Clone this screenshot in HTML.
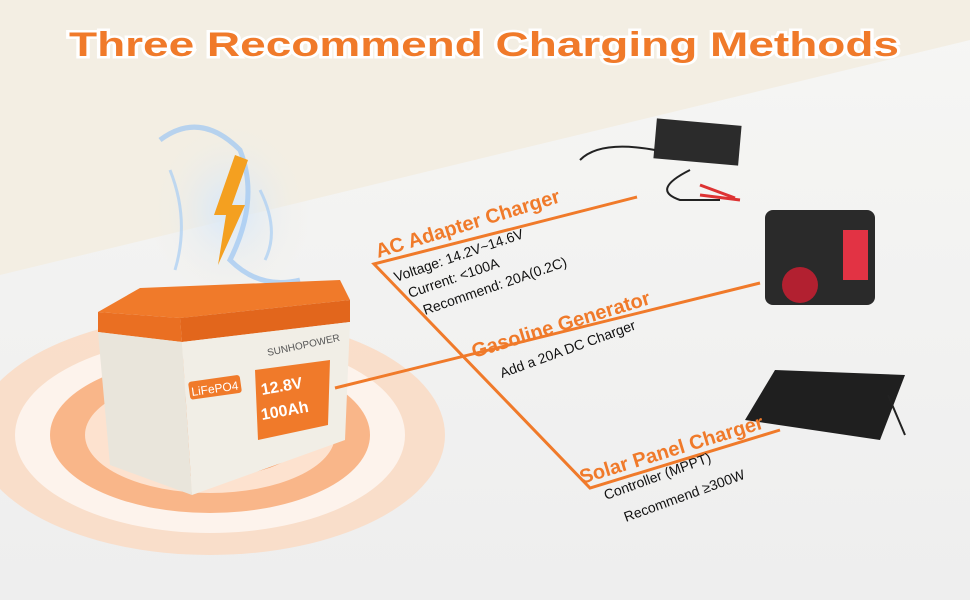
<!DOCTYPE html>
<html><head><meta charset="utf-8"><style>
html,body{margin:0;padding:0;background:#fff}
svg{display:block}
text{font-family:"Liberation Sans",sans-serif}
</style></head><body>
<svg width="970" height="600" viewBox="0 0 970 600" xmlns="http://www.w3.org/2000/svg">
<defs>
<linearGradient id="floor" x1="0" y1="0" x2="0" y2="1">
<stop offset="0" stop-color="#f6f6f4"/><stop offset="1" stop-color="#eeeeee"/>
</linearGradient>
<radialGradient id="glow" cx="0.5" cy="0.5" r="0.5">
<stop offset="0" stop-color="#d6e8fb"/><stop offset="1" stop-color="#f3eee3" stop-opacity="0"/>
</radialGradient>
</defs>
<rect width="970" height="600" fill="url(#floor)"/>
<polygon points="0,0 970,0 970,40 0,275" fill="#f3eee3"/>
<!-- title -->
<text x="484" y="56" text-anchor="middle" font-size="34" font-weight="bold" fill="#f07a2a" stroke="#fff" stroke-width="5" paint-order="stroke" textLength="830" lengthAdjust="spacingAndGlyphs">Three Recommend Charging Methods</text>
<!-- rings -->
<ellipse cx="210" cy="435" rx="235" ry="120" fill="#fbd9c0" opacity="0.8"/>
<ellipse cx="210" cy="435" rx="195" ry="98" fill="#fdf3ec"/>
<ellipse cx="210" cy="435" rx="160" ry="78" fill="#f9b689"/>
<ellipse cx="210" cy="435" rx="125" ry="58" fill="#fde2cf"/>
<ellipse cx="210" cy="435" rx="95" ry="42" fill="#f5955a"/>
<!-- lightning glow -->
<ellipse cx="230" cy="210" rx="80" ry="90" fill="url(#glow)"/>
<path d="M160 140 Q200 110 240 150 Q260 200 230 260 Q260 290 300 280" stroke="#9cc6f2" stroke-width="5" fill="none" opacity="0.7"/>
<path d="M170 170 Q190 220 175 270 M260 190 Q280 230 265 260" stroke="#a8cdf4" stroke-width="3" fill="none" opacity="0.7"/>
<polygon points="235,155 248,160 232,205 245,205 218,265 226,215 214,215" fill="#f4a020"/>
<!-- battery -->
<polygon points="140,288 340,280 350,300 180,318 98,312" fill="#f07a2a"/>
<polygon points="98,312 180,318 182,342 98,332" fill="#ea6f22"/>
<polygon points="180,318 350,300 350,322 182,342" fill="#e2661c"/>
<polygon points="98,332 182,342 192,495 110,465" fill="#e9e5db"/>
<polygon points="182,342 350,322 345,440 192,495" fill="#f1eee6"/>
<polygon points="255,370 330,360 328,425 258,440" fill="#f07a2a"/>
<text x="262" y="395" font-size="16" font-weight="bold" fill="#fff" transform="rotate(-10 262 395)">12.8V</text>
<text x="262" y="420" font-size="16" font-weight="bold" fill="#fff" transform="rotate(-10 262 420)">100Ah</text>
<rect x="188" y="382" width="52" height="18" rx="3" fill="#f07a2a" transform="rotate(-8 188 382)"/>
<text x="192" y="396" font-size="12" fill="#fff" transform="rotate(-8 192 396)">LiFePO4</text>
<text x="268" y="356" font-size="10" fill="#555" transform="rotate(-12 268 356)">SUNHOPOWER</text>
<!-- devices -->
<rect x="655" y="122" width="85" height="40" fill="#2b2b2b" transform="rotate(5 697 142)"/>
<path d="M655 150 Q600 140 580 160 M690 170 Q650 190 680 200 L720 200" stroke="#222" stroke-width="2" fill="none"/>
<path d="M700 185 L735 198 M700 195 L740 200" stroke="#d33" stroke-width="3"/>
<rect x="765" y="210" width="110" height="95" rx="8" fill="#2a2a2a"/>
<rect x="843" y="230" width="25" height="50" fill="#e23344"/>
<circle cx="800" cy="285" r="18" fill="#b22030"/>
<polygon points="745,420 775,370 905,375 880,440" fill="#1f1f1f"/>
<line x1="888" y1="395" x2="905" y2="435" stroke="#222" stroke-width="2"/>
<!-- connector lines -->
<g stroke="#f07a2a" stroke-width="3" fill="none">
<polyline points="637,197 374,264 590,488 780,430"/>
<line x1="335" y1="388" x2="760" y2="283"/>
</g>
<!-- labels -->
<text x="378" y="258" font-size="20" font-weight="bold" fill="#f07a2a" transform="rotate(-17 378 258)">AC Adapter Charger</text>
<g font-size="14" fill="#111">
<text x="396" y="282" transform="rotate(-19 396 282)">Voltage: 14.2V~14.6V</text>
<text x="410" y="298" transform="rotate(-19 410 298)">Current: &lt;100A</text>
<text x="425" y="315" transform="rotate(-19 425 315)">Recommend: 20A(0.2C)</text>
<text x="502" y="378" transform="rotate(-20 502 378)">Add a 20A DC Charger</text>
<text x="606" y="500" transform="rotate(-20 606 500)">Controller (MPPT)</text>
<text x="626" y="522" transform="rotate(-20 626 522)">Recommend ≥300W</text>
</g>
<text x="474" y="358" font-size="20" font-weight="bold" fill="#f07a2a" transform="rotate(-17 474 358)">Gasoline Generator</text>
<text x="582" y="484" font-size="20" font-weight="bold" fill="#f07a2a" transform="rotate(-17 582 484)">Solar Panel Charger</text>
</svg>
</body></html>
